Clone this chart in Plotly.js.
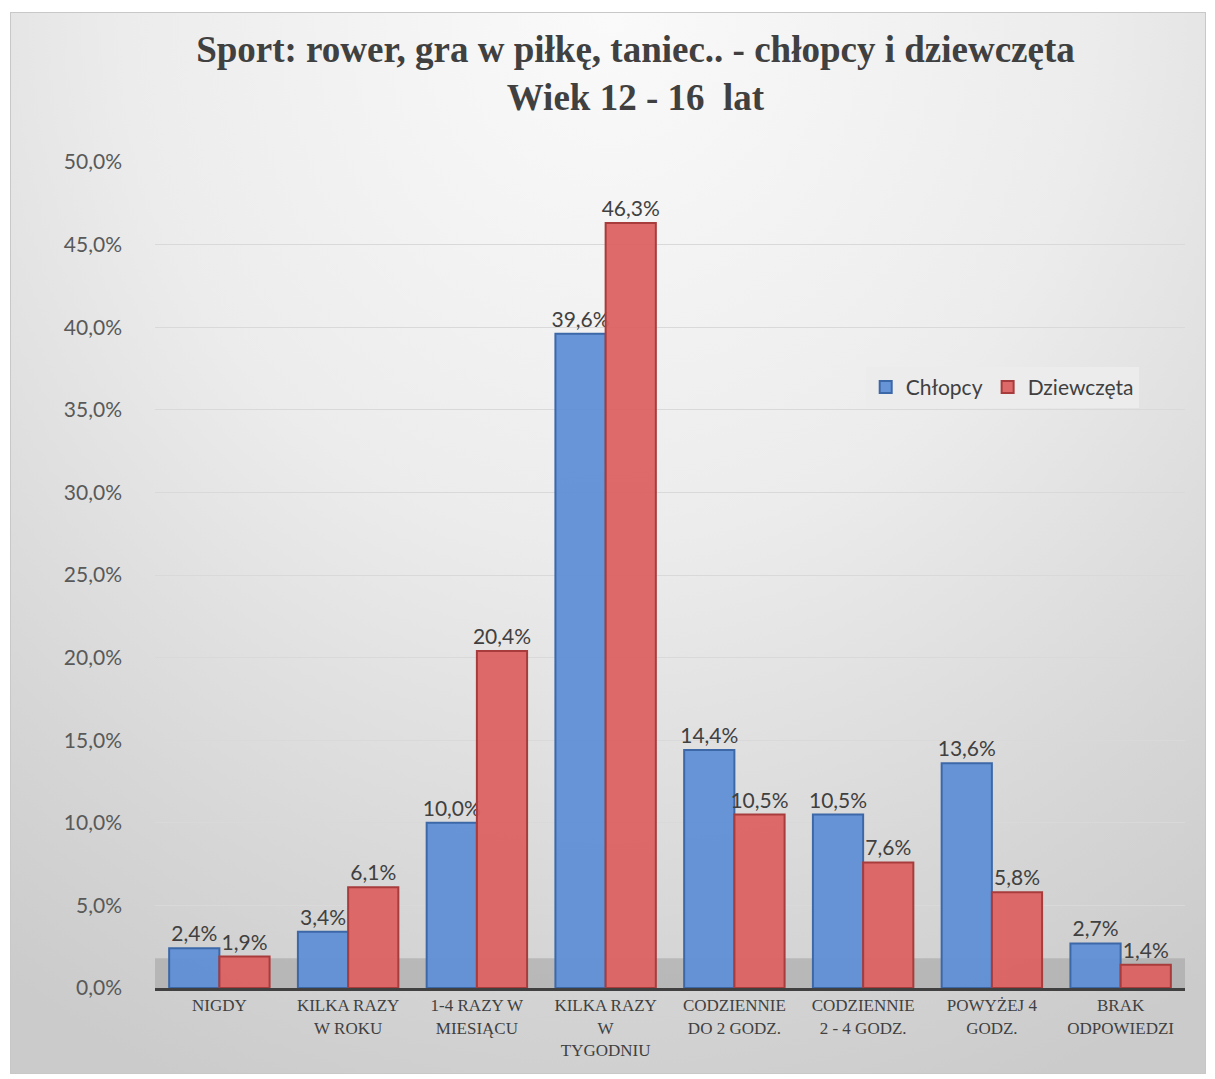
<!DOCTYPE html>
<html>
<head>
<meta charset="utf-8">
<script src="https://cdn.plot.ly/plotly-3.0.1.min.js"></script>
<style>
  html, body { margin: 0; padding: 0; background: #ffffff; }
  #wrap { position: relative; width: 1215px; height: 1079px; background: #ffffff; }
  #frame { position: absolute; left: 10px; top: 12px; width: 1196px; height: 1062px;
    border: 1px solid #c8c8c8; box-sizing: border-box;
    background: radial-gradient(ellipse 90% 110% at 50% 0%, #fafafa 0%, #ececec 45%, #d6d6d6 80%, #cbcbcb 100%); }
  #chart { position: absolute; left: 0; top: 0; width: 1215px; height: 1079px; }
</style>
</head>
<body>
<div id="wrap">
  <div id="frame"></div>
  <div id="chart"></div>
</div>
<script>
const categories = [
  "NIGDY",
  "KILKA RAZY<br>W ROKU",
  "1-4 RAZY W<br>MIESIĄCU",
  "KILKA RAZY<br>W<br>TYGODNIU",
  "CODZIENNIE<br>DO 2 GODZ.",
  "CODZIENNIE<br>2 - 4 GODZ.",
  "POWYŻEJ 4<br>GODZ.",
  "BRAK<br>ODPOWIEDZI"
];
const chlopcy = [2.4, 3.4, 10.0, 39.6, 14.4, 10.5, 13.6, 2.7];
const dziewczeta = [1.9, 6.1, 20.4, 46.3, 10.5, 7.6, 5.8, 1.4];
const yTicks = [0, 5, 10, 15, 20, 25, 30, 35, 40, 45, 50];

const labelFont = {family: "Lato, 'Open Sans', sans-serif", size: 21, color: "#404040"};

const traces = [
  {
    type: "bar", name: "Chłopcy", x: categories, y: chlopcy,
    marker: {color: "rgba(95,143,214,0.95)", line: {color: "#3d68a8", width: 2}},
    text: chlopcy.map(v => v.toFixed(1).replace(".", ",") + "%"),
    textposition: "outside", textfont: labelFont, cliponaxis: false,
    constraintext: "none",
    hoverinfo: "skip"
  },
  {
    type: "bar", name: "Dziewczęta", x: categories, y: dziewczeta,
    marker: {color: "rgba(220,98,98,0.95)", line: {color: "#a83c3c", width: 2}},
    text: dziewczeta.map(v => v.toFixed(1).replace(".", ",") + "%"),
    textposition: "outside", textfont: labelFont, cliponaxis: false,
    constraintext: "none",
    hoverinfo: "skip"
  }
];

const layout = {
  width: 1215, height: 1079,
  paper_bgcolor: "rgba(0,0,0,0)",
  plot_bgcolor: "rgba(0,0,0,0)",
  separators: ", ",
  margin: {l: 155, r: 30, t: 162, b: 91},
  title: {
    text: "<b>Sport: rower, gra w piłkę, taniec.. - chłopcy i dziewczęta<br>Wiek 12 - 16  lat</b>",
    font: {family: "'Liberation Serif', 'Times New Roman', serif", size: 37, color: "#404040"},
    xref: "container", x: 0.523, xanchor: "center",
    yref: "container", y: 0.943, yanchor: "middle"
  },
  barmode: "group",
  bargap: 0.22,
  bargroupgap: 0,
  showlegend: true,
  legend: {
    orientation: "h",
    x: 0.69, xanchor: "left", y: 0.752, yanchor: "top",
    bgcolor: "#ececec",
    font: {family: "Lato, 'Open Sans', sans-serif", size: 21, color: "#404040"},
    itemwidth: 30, traceorder: "normal"
  },
  xaxis: {
    type: "category",
    showline: true, linecolor: "#404040", linewidth: 3,
    showgrid: false, ticks: "",
    tickfont: {family: "'Liberation Serif', 'Times New Roman', serif", size: 17, color: "#404040"},
    tickangle: 0
  },
  yaxis: {
    range: [0, 50],
    tickvals: yTicks,
    ticktext: yTicks.map(v => v.toFixed(1).replace(".", ",") + "%"),
    showgrid: true, gridcolor: "#d9d9d9", gridwidth: 1,
    zeroline: false, showline: false, ticks: "",
    ticklabelstandoff: 32,
    tickfont: {family: "Lato, 'Open Sans', sans-serif", size: 21, color: "#595959"}
  },
  shapes: [
    {type: "rect", xref: "paper", yref: "y", x0: 0, x1: 1, y0: 0, y1: 1.8,
     fillcolor: "rgba(150,150,150,0.45)", line: {width: 0}, layer: "below"}
  ]
};

Plotly.newPlot("chart", traces, layout, {displayModeBar: false, staticPlot: true});
</script>
</body>
</html>
